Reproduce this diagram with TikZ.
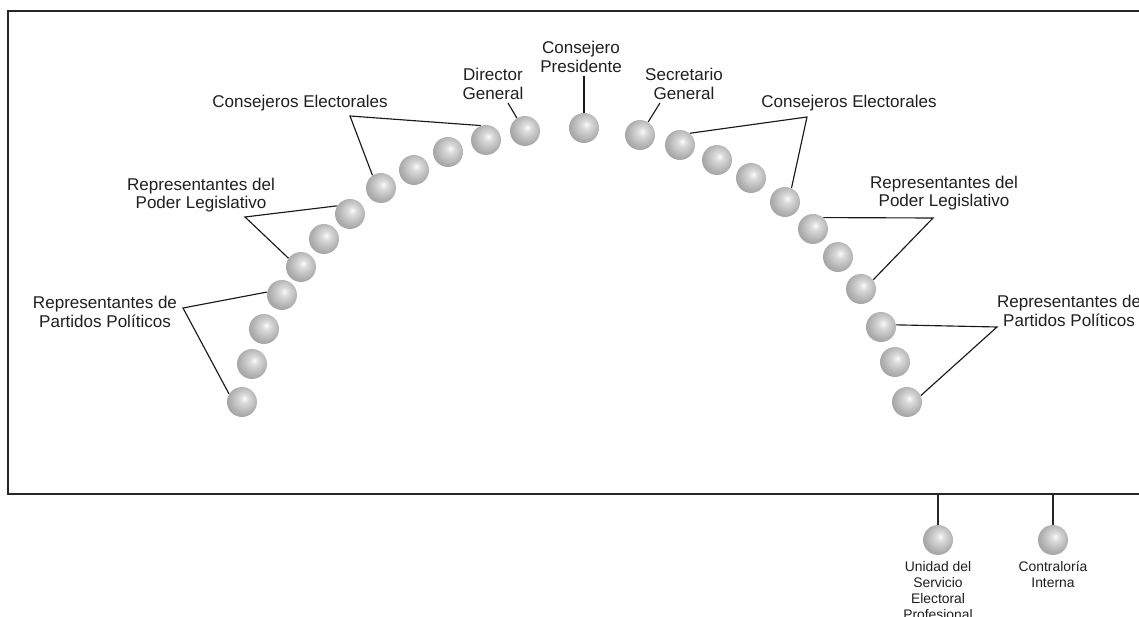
\documentclass[tikz,border=0pt]{standalone}
\usepackage{fontspec}
\setmainfont{Liberation Sans}
\usetikzlibrary{positioning}

\pgfdeclareradialshading{sphere}{\pgfpoint{4bp}{6bp}}{%
  color(0bp)=(gray!3); color(7bp)=(gray!28); color(24bp)=(gray!64);
  color(42bp)=(gray!90); color(56bp)=(gray!100); color(70bp)=(gray!100)}

\begin{document}
\begin{tikzpicture}[x=0.02cm, y=-0.02cm, node distance=1.2mm,
ball/.style={circle, minimum size=6mm, inner sep=0pt, shading=sphere},
txt/.style={align=center, text=black!88, inner sep=0pt, font=\fontsize{9.7}{10.6}\selectfont},
smalltxt/.style={align=center, text=black!88, inner sep=0pt, font=\fontsize{7.9}{9.1}\selectfont},
lead/.style={draw=black!90, line width=0.65pt},
frame/.style={draw=black!85, line width=1.5pt},
stalk/.style={draw=black!85, line width=1.6pt},
]

\clip (0,0) rectangle (1139,617);

%Frame
\coordinate (tl) at (8,11);
\coordinate (bl) at (8,494);
\coordinate (tr) at (1160,11);
\coordinate (br) at (1160,494);
\draw [frame] (tr) -- (tl) -- (bl) -- (br);

%Spheres
\foreach \n/\x/\y in {l1/242/402, l2/252/364, l3/264/329, l4/282/295, l5/301/267,
  l6/324/239, l7/350/214, l8/381/188, l9/414/170, l10/448/152, l11/486/140,
  dg/525/131, pres/584/128, sg/640/135,
  r1/680/145, r2/717/160, r3/751/178, r4/785/202, r5/813/229, r6/838/257,
  r7/861/289, r8/881/327, r9/895/362, r10/907/402,
  usep/938/540, contra/1053/540}
  \node [ball] (\n) at (\x,\y) {};

%Labels
\node [txt] (ce_l_txt) at (300,103) {Consejeros Electorales};
\node [txt] (pl_l_txt) at (201,195) {Representantes del\\Poder Legislativo};
\node [txt] (pp_l_txt) at (105,312) {Representantes de\\Partidos Pol\'iticos};
\node [txt] (dg_txt) at (493,84) {Director\\General};
\node [txt] (pres_txt) at (581,57) {Consejero\\Presidente};
\node [txt] (sg_txt) at (684,84) {Secretario\\General};
\node [txt] (ce_r_txt) at (849,103) {Consejeros Electorales};
\node [txt] (pl_r_txt) at (944,193) {Representantes del\\Poder Legislativo};
\node [txt] (pp_r_txt) at (1069,311) {Representantes de\\Partidos Pol\'iticos};
\node [smalltxt] (usep_txt) [below = of usep] {Unidad del\\Servicio\\Electoral\\Profesional};
\node [smalltxt] (contra_txt) [below = of contra] {Contralor\'ia\\Interna};

%Bracket corners
\coordinate (ce_l) at (350,116);
\coordinate (pl_l) at (245,217);
\coordinate (pp_l) at (183,308);
\coordinate (ce_r) at (807,117);
\coordinate (pl_r) at (933,218);
\coordinate (pp_r) at (997,327);
\coordinate (dg_a) at (508,103);
\coordinate (pres_a) at (584,76);
\coordinate (sg_a) at (660,103);
\coordinate (usep_a) at (938,494);
\coordinate (contra_a) at (1053,494);

% Paths
\draw [lead] (l11.110) -- (ce_l) -- (l8.124);
\draw [lead] (l7.148) -- (pl_l) -- (l5.145);
\draw [lead] (l4.169) -- (pp_l) -- (l1.148);
\draw [lead] (dg_a) -- (dg.122);
\draw [lead] (pres_a) -- (pres.north);
\draw [lead] (sg_a) -- (sg.58);
\draw [lead] (r1.50) -- (ce_r) -- (r4.65);
\draw [lead] (r5.48) -- (pl_r) -- (r7.37);
\draw [lead] (r8.8) -- (pp_r) -- (r10.25);
\draw [stalk] (usep_a) -- (usep.north);
\draw [stalk] (contra_a) -- (contra.north);
\end{tikzpicture}
\end{document}
